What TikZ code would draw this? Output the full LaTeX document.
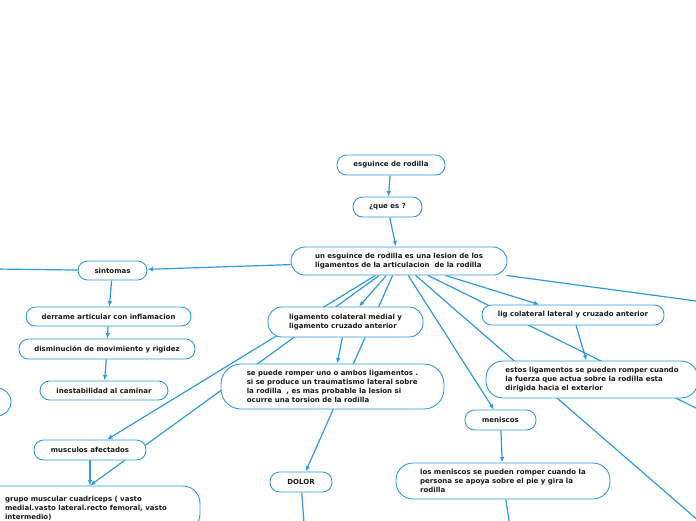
\documentclass[tikz,border=0pt]{standalone}
\usepackage{fontspec}
\setmainfont{DejaVu Sans}
\usepackage{tikz}
\usepackage{xcolor}
\usetikzlibrary{arrows.meta,backgrounds}
\definecolor{wire}     {HTML}{2F9ADB}
\definecolor{ink}      {HTML}{1A1A1A}

\begin{document}
\begin{tikzpicture}[x=1pt,y=-1pt,
      topic/.style={draw=wire,line width=0.9pt,fill=white,
            rounded corners=9.5pt,text=ink,align=left,inner sep=0pt,
            font=\fontsize{7}{8.8}\selectfont\bfseries},
      bigtopic/.style={topic,rounded corners=17pt},
      link/.style={draw=wire,line width=1.2pt},
      linkto/.style={link,-{Latex[length=5.5pt,width=4.5pt]}}]
      \useasboundingbox (0,0) rectangle (696,520);

      \node[topic,minimum width=108pt,minimum height=20pt]
        (title) at (391,165) {esguince de rodilla};
      \node[topic,minimum width=69pt,minimum height=20pt]
        (queEs) at (387.5,207) {¿que es ?};
      \node[topic,rounded corners=14pt,minimum width=216pt,minimum height=28pt]
        (central) at (399,261)
        {un esguince de rodilla es una lesion de los\\
         ligamentos de la articulacion \ de la rodilla};

      \node[topic,minimum width=69pt,minimum height=19pt]
        (sintomas) at (112.5,270.5) {sintomas};
      \node[topic,minimum width=165pt,minimum height=19pt]
        (derrame) at (108.5,316.5) {derrame articular con inflamacion};
      \node[topic,minimum width=176pt,minimum height=20pt]
        (disminucion) at (107,349) {disminución de movimiento y rigidez};
      \node[topic,minimum width=128pt,minimum height=19pt]
        (inestable) at (104,390.5) {inestabilidad al caminar};
      \node[topic,rounded corners=14pt,minimum width=100pt,minimum height=28pt]
        (cutLeft) at (-39,402) {};

      \node[topic,rounded corners=14pt,minimum width=155pt,minimum height=30pt]
        (ligMedial) at (345.5,322)
        {ligamento colateral medial y\\
         ligamento cruzado anterior};
      \node[bigtopic,rounded corners=20pt,minimum width=223pt,minimum height=45pt]
        (sePuede) at (332.5,386.5)
        {se puede romper uno o ambos ligamentos .\\
         si se produce un traumatismo lateral sobre\\
         la rodilla \ , es mas probable la lesion si\\
         ocurre una torsion de la rodilla};
      \node[topic,minimum width=62pt,minimum height=20pt]
        (dolor) at (301,482) {DOLOR};

      \node[topic,minimum width=112pt,minimum height=20pt]
        (musculos) at (90,450) {musculos afectados};
      \node[bigtopic,minimum width=228pt,minimum height=45pt]
        (grupo) at (86,508.5)
        {grupo muscular cuadriceps ( vasto\\
         medial.vasto lateral.recto femoral, vasto\\
         intermedio)};

      \node[topic,minimum width=182pt,minimum height=20pt]
        (ligLateral) at (573,315) {lig colateral lateral y cruzado anterior};
      \node[bigtopic,minimum width=212pt,minimum height=37pt]
        (estos) at (592,379.5)
        {estos ligamentos se pueden romper cuando\\
         la fuerza que actua sobre la rodilla esta\\
         dirigida hacia el exterior};

      \node[topic,minimum width=71pt,minimum height=20pt]
        (meniscos) at (500.5,420) {meniscos};
      \node[bigtopic,minimum width=214pt,minimum height=36pt]
        (losMeniscos) at (503,481)
        {los meniscos se pueden romper cuando la\\
         persona se apoya sobre el pie y gira la\\
         rodilla};

      \coordinate (offLeft)   at (-4,269);
      \coordinate (offRightA) at (700,301.5);
      \coordinate (offRightB) at (700,410);
      \coordinate (offRightC) at (700,522);
      \coordinate (offDolor)  at (304.5,530);
      \coordinate (offMen)    at (510.5,530);

      \begin{scope}[on background layer]
        \draw[linkto] (title) -- (queEs);
        \draw[linkto] (queEs) -- (central);
        \draw[linkto] (central) -- (sintomas);
        \draw[link] (sintomas) -- (offLeft);
        \draw[linkto] (sintomas) -- (derrame);
        \draw[linkto] (derrame) -- (disminucion);
        \draw[linkto] (disminucion) -- (inestable);
        \draw[linkto] (central) -- (ligMedial);
        \draw[linkto] (central) -- (musculos);
        \draw[linkto] (central) -- ([xshift=4pt]grupo.north);
        \draw[linkto] (musculos) -- (musculos |- grupo.north);
        \draw[linkto] (ligMedial) -- (sePuede);
        \draw[linkto] (central) -- (dolor);
        \draw[link] (dolor) -- (offDolor);
        \draw[linkto] (central) -- (meniscos);
        \draw[linkto] (meniscos) -- (losMeniscos);
        \draw[link] (losMeniscos) -- (offMen);
        \draw[linkto] (central) -- (ligLateral);
        \draw[linkto] (ligLateral) -- (estos);
        \draw[link] (central) -- (offRightA);
        \draw[link] (central) -- (offRightB);
        \draw[link] (central) -- (offRightC);
      \end{scope}
\end{tikzpicture}
\end{document}
